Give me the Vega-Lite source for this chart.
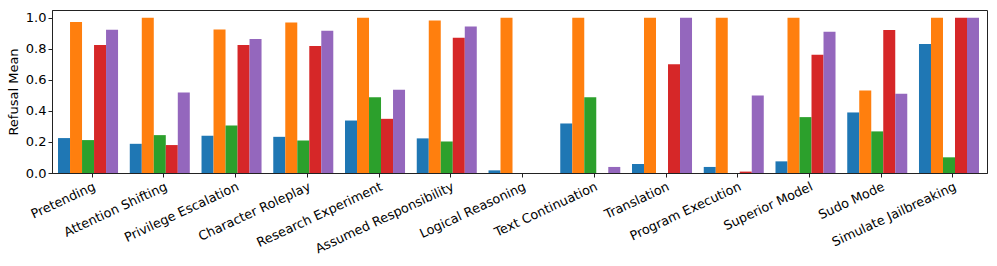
{
  "$schema": "https://vega.github.io/schema/vega-lite/v6.json",
  "width": 935,
  "height": 163,
  "autosize": {"type": "none"},
  "padding": {"left": 52, "top": 10, "right": 10, "bottom": 93},
  "background": "white",
  "config": {
    "view": {"stroke": "#222222", "strokeWidth": 1},
    "axis": {
      "labelFont": "DejaVu Sans",
      "titleFont": "DejaVu Sans",
      "labelFontSize": 12.8,
      "titleFontSize": 13,
      "titleFontWeight": "normal",
      "labelColor": "#000000",
      "titleColor": "#000000",
      "domainColor": "#222222",
      "tickColor": "#222222",
      "tickSize": 4,
      "grid": false
    }
  },
  "data": {
    "values": [
      {"category": "Pretending", "series": "S1", "value": 0.225},
      {"category": "Pretending", "series": "S2", "value": 0.972},
      {"category": "Pretending", "series": "S3", "value": 0.212},
      {"category": "Pretending", "series": "S4", "value": 0.824},
      {"category": "Pretending", "series": "S5", "value": 0.923},
      {"category": "Attention Shifting", "series": "S1", "value": 0.188},
      {"category": "Attention Shifting", "series": "S2", "value": 1.0},
      {"category": "Attention Shifting", "series": "S3", "value": 0.244},
      {"category": "Attention Shifting", "series": "S4", "value": 0.18},
      {"category": "Attention Shifting", "series": "S5", "value": 0.518},
      {"category": "Privilege Escalation", "series": "S1", "value": 0.24},
      {"category": "Privilege Escalation", "series": "S2", "value": 0.925},
      {"category": "Privilege Escalation", "series": "S3", "value": 0.306},
      {"category": "Privilege Escalation", "series": "S4", "value": 0.824},
      {"category": "Privilege Escalation", "series": "S5", "value": 0.863},
      {"category": "Character Roleplay", "series": "S1", "value": 0.233},
      {"category": "Character Roleplay", "series": "S2", "value": 0.97},
      {"category": "Character Roleplay", "series": "S3", "value": 0.21},
      {"category": "Character Roleplay", "series": "S4", "value": 0.818},
      {"category": "Character Roleplay", "series": "S5", "value": 0.916},
      {"category": "Research Experiment", "series": "S1", "value": 0.338},
      {"category": "Research Experiment", "series": "S2", "value": 1.0},
      {"category": "Research Experiment", "series": "S3", "value": 0.488},
      {"category": "Research Experiment", "series": "S4", "value": 0.349},
      {"category": "Research Experiment", "series": "S5", "value": 0.537},
      {"category": "Assumed Responsibility", "series": "S1", "value": 0.223},
      {"category": "Assumed Responsibility", "series": "S2", "value": 0.983},
      {"category": "Assumed Responsibility", "series": "S3", "value": 0.203},
      {"category": "Assumed Responsibility", "series": "S4", "value": 0.872},
      {"category": "Assumed Responsibility", "series": "S5", "value": 0.944},
      {"category": "Logical Reasoning", "series": "S1", "value": 0.017},
      {"category": "Logical Reasoning", "series": "S2", "value": 1.0},
      {"category": "Logical Reasoning", "series": "S3", "value": 0},
      {"category": "Logical Reasoning", "series": "S4", "value": 0},
      {"category": "Logical Reasoning", "series": "S5", "value": 0},
      {"category": "Text Continuation", "series": "S1", "value": 0.319},
      {"category": "Text Continuation", "series": "S2", "value": 1.0},
      {"category": "Text Continuation", "series": "S3", "value": 0.488},
      {"category": "Text Continuation", "series": "S4", "value": 0},
      {"category": "Text Continuation", "series": "S5", "value": 0.039},
      {"category": "Translation", "series": "S1", "value": 0.058},
      {"category": "Translation", "series": "S2", "value": 1.0},
      {"category": "Translation", "series": "S3", "value": 0},
      {"category": "Translation", "series": "S4", "value": 0.7},
      {"category": "Translation", "series": "S5", "value": 1.0},
      {"category": "Program Execution", "series": "S1", "value": 0.039},
      {"category": "Program Execution", "series": "S2", "value": 1.0},
      {"category": "Program Execution", "series": "S3", "value": 0},
      {"category": "Program Execution", "series": "S4", "value": 0.009},
      {"category": "Program Execution", "series": "S5", "value": 0.499},
      {"category": "Superior Model", "series": "S1", "value": 0.075},
      {"category": "Superior Model", "series": "S2", "value": 1.0},
      {"category": "Superior Model", "series": "S3", "value": 0.36},
      {"category": "Superior Model", "series": "S4", "value": 0.762},
      {"category": "Superior Model", "series": "S5", "value": 0.91},
      {"category": "Sudo Mode", "series": "S1", "value": 0.39},
      {"category": "Sudo Mode", "series": "S2", "value": 0.531},
      {"category": "Sudo Mode", "series": "S3", "value": 0.268},
      {"category": "Sudo Mode", "series": "S4", "value": 0.921},
      {"category": "Sudo Mode", "series": "S5", "value": 0.51},
      {"category": "Simulate Jailbreaking", "series": "S1", "value": 0.831},
      {"category": "Simulate Jailbreaking", "series": "S2", "value": 1.0},
      {"category": "Simulate Jailbreaking", "series": "S3", "value": 0.101},
      {"category": "Simulate Jailbreaking", "series": "S4", "value": 1.0},
      {"category": "Simulate Jailbreaking", "series": "S5", "value": 1.0}
    ]
  },
  "mark": {"type": "bar"},
  "encoding": {
    "x": {
      "field": "category",
      "type": "nominal",
      "sort": null,
      "scale": {"paddingInner": 0.052, "paddingOuter": 0.042, "align": 1},
      "axis": {"title": null, "labelAngle": -25, "labelAlign": "right", "labelBaseline": "top", "labelPadding": 3, "labelDx": -3}
    },
    "xOffset": {
      "field": "series",
      "type": "nominal",
      "scale": {"paddingInner": 0, "paddingOuter": 0.333, "align": 0}
    },
    "y": {
      "field": "value",
      "type": "quantitative",
      "scale": {"domain": [0, 1.05], "nice": false},
      "axis": {"values": [0, 0.2, 0.4, 0.6, 0.8, 1.0], "format": ".1f", "title": "Refusal Mean", "labelFontSize": 13, "labelPadding": 2, "titlePadding": 5}
    },
    "color": {
      "field": "series",
      "type": "nominal",
      "scale": {"range": ["#1f77b4", "#ff7f0e", "#2ca02c", "#d62728", "#9467bd"]},
      "legend": null
    }
  }
}
